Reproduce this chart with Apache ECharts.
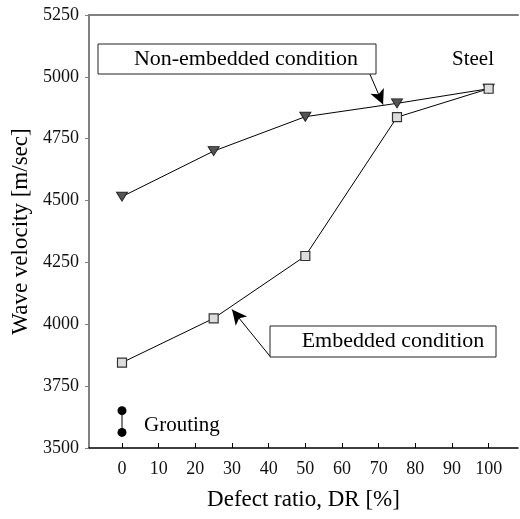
<!DOCTYPE html>
<html><head><meta charset="utf-8">
<script src="https://cdn.jsdelivr.net/npm/echarts@6/dist/echarts.min.js"></script>
<style>html,body{margin:0;padding:0;background:#fff}#c{width:520px;height:519px}</style>
</head><body><div id="c"></div>
<script>
const defectRatio = [0, 25, 50, 75, 100];
const nonEmbedded = [4516, 4700, 4839, 4893, 4952];
const embedded = [3845, 4024, 4276, 4837, 4952];
const groutingX = [0, 0];
const grouting = [3651, 3563];
const xTicks = [0, 10, 20, 30, 40, 50, 60, 70, 80, 90, 100];
const yTicks = [3500, 3750, 4000, 4250, 4500, 4750, 5000, 5250];

const FONT = '"Liberation Serif", "Times New Roman", serif';
const pairs = (xs, ys) => xs.map((x, i) => [x, ys[i]]);

const chart = echarts.init(document.getElementById('c'));
chart.setOption({
  animation: false,
  backgroundColor: '#fff',
  grid: { left: 89, top: 15, right: 2, bottom: 71, containLabel: false },
  xAxis: [{
    type: 'value', min: -9, max: 108,
    name: 'Defect ratio, DR [%]', nameLocation: 'middle', nameGap: 40,
    nameTextStyle: { fontFamily: FONT, fontSize: 23, color: '#000' },
    splitLine: { show: false },
    axisLine: { show: true, onZero: false, lineStyle: { color: '#000', width: 1.5 } },
    axisTick: { show: true, inside: true, length: 5, customValues: xTicks, lineStyle: { color: '#000' } },
    axisLabel: { customValues: xTicks, margin: 12, fontFamily: FONT, fontSize: 18, color: '#111', formatter: v => String(v) }
  }, {
    type: 'value', position: 'top', min: -9, max: 108,
    splitLine: { show: false },
    axisLine: { show: true, onZero: false, lineStyle: { color: '#808080', width: 2 } },
    axisTick: { show: false }, axisLabel: { show: false }
  }],
  yAxis: {
    type: 'value', min: yTicks[0], max: yTicks[yTicks.length - 1], interval: 250,
    name: 'Wave velocity [m/sec]', nameLocation: 'middle', nameGap: 55,
    nameTextStyle: { fontFamily: FONT, fontSize: 23, color: '#000' },
    splitLine: { show: false },
    axisLine: { show: true, onZero: false, lineStyle: { color: '#808080', width: 2 } },
    axisTick: { show: true, inside: false, length: 4, lineStyle: { color: '#808080' } },
    axisLabel: { margin: 10, fontFamily: FONT, fontSize: 18, color: '#111', formatter: v => String(v) }
  },
  series: [{
    name: 'Non-embedded condition', type: 'line', data: pairs(defectRatio, nonEmbedded),
    symbol: 'triangle', symbolRotate: 180, symbolSize: [11, 9],
    lineStyle: { color: '#000', width: 1 },
    itemStyle: { color: '#555', borderColor: '#222', borderWidth: 1 },
    z: 3,
    markLine: {
      silent: true, symbol: ['none', 'arrow'], symbolSize: [11, 15],
      lineStyle: { color: '#000', width: 1, type: 'solid' }, label: { show: false },
      data: [[{ coord: [67.6, 5011] }, { coord: [71.2, 4888] }]]
    }
  }, {
    name: 'Embedded condition', type: 'line', data: pairs(defectRatio, embedded),
    symbol: 'rect', symbolSize: 9,
    lineStyle: { color: '#000', width: 1 },
    itemStyle: { color: '#ddd', borderColor: '#333', borderWidth: 1.2 },
    z: 4,
    markLine: {
      silent: true, symbol: ['none', 'arrow'], symbolSize: [11, 15],
      lineStyle: { color: '#000', width: 1, type: 'solid' }, label: { show: false },
      data: [[{ coord: [40.4, 3870] }, { coord: [30, 4060] }]]
    }
  }, {
    name: 'Grouting', type: 'line', data: pairs(groutingX, grouting),
    symbol: 'circle', symbolSize: 9,
    lineStyle: { color: '#000', width: 1 },
    itemStyle: { color: '#000' }
  }],
  graphic: [
    { type: 'rect', shape: { x: 98, y: 44, width: 278, height: 30 }, style: { fill: '#fff', stroke: '#222', lineWidth: 1 }, z: 10 },
    { type: 'text', x: 246, y: 59, style: { text: 'Non-embedded condition', font: '22px ' + FONT, fill: '#000', textAlign: 'center', textVerticalAlign: 'middle' }, z: 11 },
    { type: 'rect', shape: { x: 270, y: 326, width: 226, height: 31 }, style: { fill: '#fff', stroke: '#222', lineWidth: 1 }, z: 10 },
    { type: 'text', x: 393, y: 341, style: { text: 'Embedded condition', font: '22px ' + FONT, fill: '#000', textAlign: 'center', textVerticalAlign: 'middle' }, z: 11 },
    { type: 'text', x: 473, y: 59, style: { text: 'Steel', font: '21px ' + FONT, fill: '#000', textAlign: 'center', textVerticalAlign: 'middle' }, z: 11 },
    { type: 'text', x: 144, y: 425, style: { text: 'Grouting', font: '21px ' + FONT, fill: '#000', textAlign: 'left', textVerticalAlign: 'middle' }, z: 11 }
  ]
});
</script></body></html>
